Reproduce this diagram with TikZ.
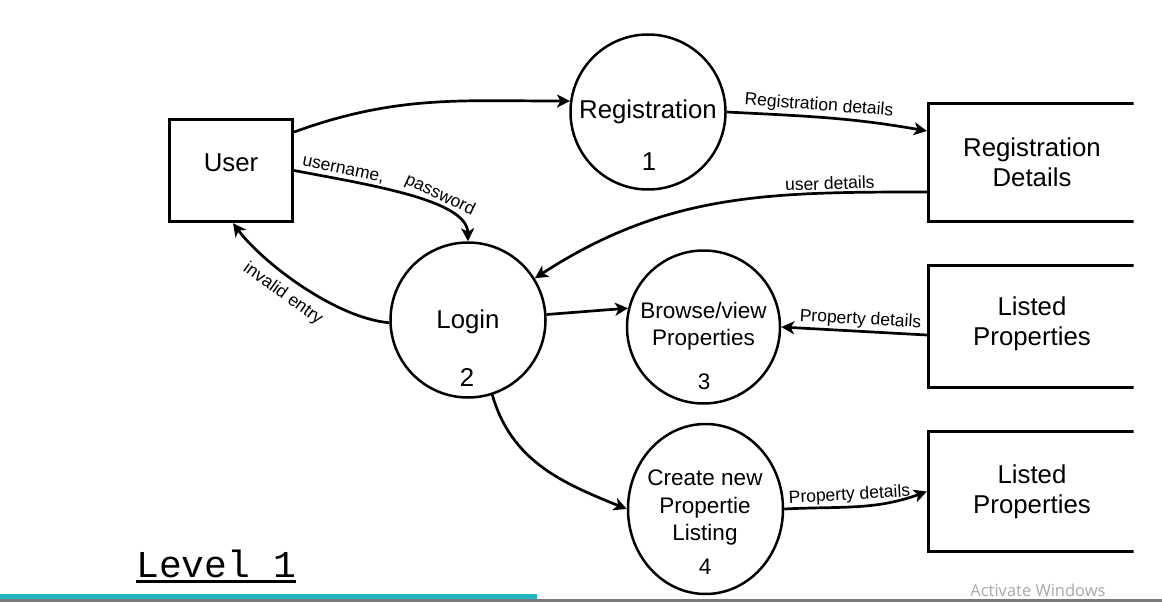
\documentclass[tikz,border=0pt]{standalone}
\usepackage{fontspec}
\setmainfont{Liberation Sans}
\newfontfamily\lvlfont{Liberation Mono}
\newfontfamily\winfont{Open Sans}
\usetikzlibrary{arrows.meta,shapes.geometric}
\definecolor{barteal}{HTML}{22B5C0}
\definecolor{bargray}{HTML}{7A7A7A}
\definecolor{wintext}{HTML}{A9A9A9}
\tikzset{
 ent/.style={draw, line width=2.8pt, rectangle, inner sep=0pt},
 proc/.style={draw, line width=2.5pt, circle, inner sep=0pt, minimum size=155pt},
 big/.style={font=\fontsize{25.8}{30}\selectfont, align=center, inner sep=0pt},
 mid/.style={font=\fontsize{22.5}{27.5}\selectfont, align=center, inner sep=0pt},
 flow/.style={line width=2.7pt, -{Stealth[length=13pt,width=13pt,inset=3.5pt]}},
 lbl/.style={font=\fontsize{17.5}{20}\selectfont, sloped, inner sep=2pt},
}
\begin{document}
\begin{tikzpicture}[x=1pt,y=1pt]
\useasboundingbox (0,0) rectangle (1162,-602);
\fill[white] (0,0) rectangle (1162,-602);
% external entity
\node[ent, minimum width=123.5pt, minimum height=102.5pt] (user) at (231,-170.5) {};
\node[big] (usert) at (231,-163) {User};
% processes
\node[proc] (reg) at (648,-112) {};
\node[big] (regt) at (648,-112) {Registration};
\node[big] (regn) at (649,-162) {1};
\node[proc] (login) at (468,-320) {};
\node[big] (logint) at (468,-322) {Login};
\node[big] (loginn) at (467,-377) {2};
\node[proc, minimum size=153pt] (browse) at (703.5,-327) {};
\node[mid] (browset) at (703.5,-326) {Browse/view\\Properties};
\node[mid] (browsen) at (704,-382) {3};
\node[draw, line width=2.5pt, ellipse, minimum width=155pt, minimum height=170pt, inner sep=0pt] (create) at (705.5,-509) {};
\node[mid] (createt) at (705,-507.5) {Create new\\Propertie\\Listing};
\node[mid] (createn) at (705,-567) {4};
% data stores (cut at the right edge)
\begin{scope}
\clip (0,0) rectangle (1133.5,-602);
\node[ent, minimum width=207.4pt, minimum height=118.4pt] (regdet) at (1032,-162.5) {};
\node[ent, minimum width=207.4pt, minimum height=122.4pt] (lp1) at (1032,-326.5) {};
\node[ent, minimum width=207.4pt, minimum height=120.4pt] (lp2) at (1032,-491.5) {};
\end{scope}
\node[big] (regdett) at (1032,-162) {Registration\\Details};
\node[big] (lp1t) at (1032,-323.5) {Listed\\Properties};
\node[big] (lp2t) at (1032,-492) {Listed\\Properties};
% flows
\draw[flow] ([yshift=38.5pt]user.east) to[out=20,in=180] (reg.172);
\draw[flow] (user.east) .. controls (370,-185) and (467,-200) ..
  node[lbl, pos=0.2, above] {username,}
  node[lbl, pos=0.64, above] {password} (login.north);
\draw[flow] (login.182) .. controls (335,-318) and (262,-262) ..
  node[lbl, pos=0.55, below=6pt] {invalid entry} ([xshift=2pt]user.south);
\draw[flow] (reg.east) to[out=-3,in=170]
  node[lbl, pos=0.45, above] {Registration details} ([yshift=31.5pt]regdet.west);
\draw[flow] ([yshift=-29.5pt]regdet.west) to[out=180,in=33]
  node[lbl, pos=0.22, above] {user details} (login.32);
\draw[flow] (login.4) -- (browse.166);
\draw[flow] ([yshift=-8.5pt]lp1.west) --
  node[lbl, pos=0.46, above] {Property details} (browse.east);
\draw[flow] (login.-72) to[out=-74,in=158] (create.west);
\draw[flow] (create.east) to[out=3,in=200]
  node[lbl, pos=0.45, above] {Property details} (lp2.west);
% title
\node[font=\lvlfont\fontsize{38}{40}\selectfont, anchor=base west, inner sep=0pt] (lvl) at (136,-577) {Level 1};
\draw[line width=3pt] ([yshift=-4.7pt]lvl.base west) -- ([yshift=-4.7pt]lvl.base east);
% watermark and bottom bar
\node[font=\winfont\fontsize{16.5}{19}\selectfont, text=wintext] (aw) at (1038,-590) {Activate Windows};
\fill[barteal] (0,-594.3) rectangle (537,-598.7);
\fill[bargray] (0,-598.7) rectangle (1162,-602);
\end{tikzpicture}
\end{document}
